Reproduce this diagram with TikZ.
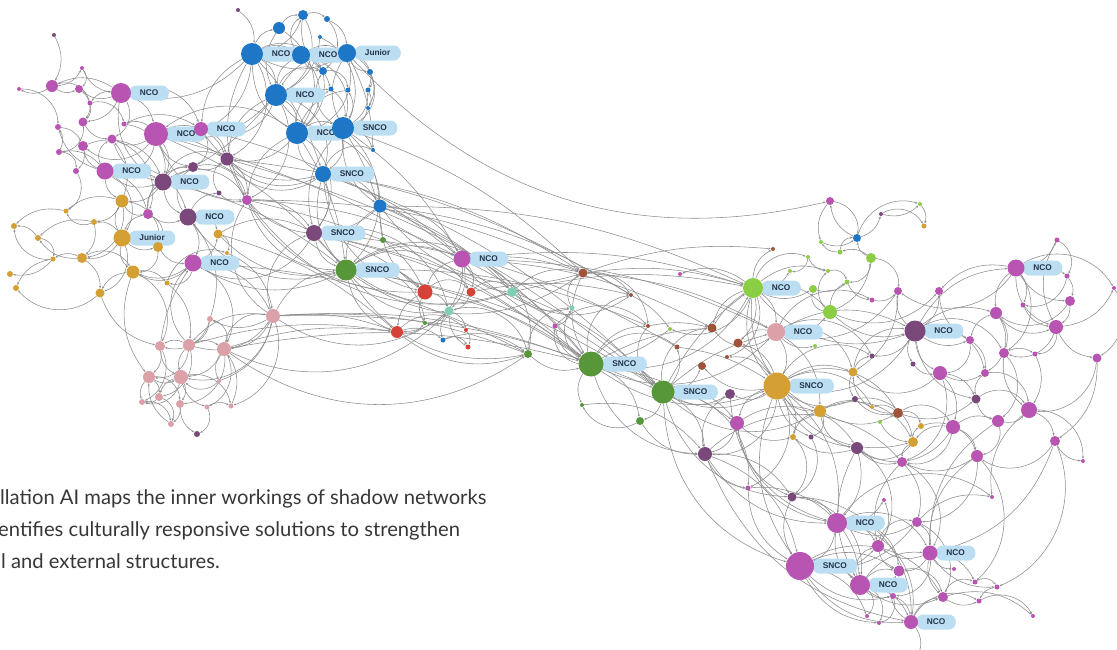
\documentclass[tikz,border=0pt]{standalone}
\usepackage{fontspec}
\setmainfont{Lato}
\newfontfamily\tagfont{Liberation Sans}
\usetikzlibrary{positioning,arrows.meta}
\definecolor{cBlue}{RGB}{30,118,198}
\definecolor{cOrchid}{RGB}{184,84,178}
\definecolor{cPlum}{RGB}{122,72,122}
\definecolor{cGold}{RGB}{212,160,52}
\definecolor{cGreen}{RGB}{88,150,58}
\definecolor{cLime}{RGB}{140,205,70}
\definecolor{cRose}{RGB}{219,160,168}
\definecolor{cRed}{RGB}{214,66,56}
\definecolor{cTeal}{RGB}{128,206,180}
\definecolor{cBrown}{RGB}{160,82,58}
\definecolor{cTag}{RGB}{188,222,242}
\definecolor{cTagText}{RGB}{35,50,72}
\definecolor{cEdge}{RGB}{140,140,140}
\definecolor{cCaption}{RGB}{55,55,55}
\pgfdeclarelayer{edges}
\pgfdeclarelayer{tags}
\pgfsetlayers{edges,tags,main}
\tikzset{
  dot/.style={circle,inner sep=0pt,minimum size=#1pt},
  tag/.style={fill=cTag,rounded corners=7pt,minimum height=15pt,inner xsep=10.5pt,inner ysep=0pt,
    font=\tagfont\bfseries\fontsize{8.3}{8.3}\selectfont,text=cTagText},
  link/.style={draw=cEdge,line width=0.55pt,-{Stealth[length=2.6pt,width=2pt]}},
  caption/.style={anchor=base west,inner sep=0pt,text=cCaption,font=\fontsize{20.2}{24}\selectfont}
}
\begin{document}
\begin{tikzpicture}[x=1pt,y=-1pt]
  \useasboundingbox (0,0) rectangle (1117,649);
  \foreach \n/\x/\y/\d in {b1/252/54/22,b2/301/55/18,b3/347/53/18,b4/276/95/22,b5/297/133/22,b6/343/128/22,
      b7/323/174/16,b8/380/206/13,b9/303/15/10,b10/279/28/12,b11/327/19/6,b12/323/71/8,b13/370/72/6,
      b14/331/89/5,b15/348/90/5,b16/368/90/5,b17/368/108/4,b18/373/150/4,b19/320/37/4,b21/443/340/5,b22/857/238/8}
    \node[dot=\d,fill=cBlue] (\n) at (\x,\y) {};
  \foreach \n/\x/\y/\d in {m1/121/93/20,m2/156/134/24,m3/201/129/14,m4/105/171/17,m5/52/86/12,m6/79/89/8,
      m7/19/89/4,m9/82/68/4,m10/90/103/5,m11/83/122/9,m12/58/127/6,m13/124/124/5,m14/112/139/9,m15/83/146/10,
      m16/59/152/6,m17/76/171/6,m18/148/214/10,m19/247/200/10,m20/193/263/17,m21/462/259/17,m22/555/326/5,
      o1/1016/268/17,o2/830/201/8,o3/1057/240/5,o4/1067/276/5,o5/1070/301/10,o6/1056/327/14,o7/1097/358/9,
      o8/1114/288/4,o9/898/291/8,o10/939/291/8,o11/872/300/5,o12/996/313/12,o13/1023/305/5,o14/970/340/8,
      o15/1004/353/10,o16/1035/354/5,o17/940/373/14,o18/985/373/8,o19/953/427/14,o20/998/421/12,
      o21/1029/410/16,o22/1055/441/10,o23/902/462/10,o24/977/456/12,o25/737/423/14,o26/1083/461/4,
      o27/748/488/5,o28/680/274/4,u1/837/523/20,u2/800/566/28,u3/860/585/20,u4/930/553/15,u5/911/622/14,
      u6/878/546/12,u7/917/522/10,u8/899/571/11,u9/893/596/6,u10/943/597/10,u11/884/500/4,u12/975/582/5,
      u13/997/587/5,u14/979/601/5,u15/1033/616/4,u16/992/497/4,u17/954/569/4,u18/867/616/4,u19/879/623/4}
    \node[dot=\d,fill=cOrchid] (\n) at (\x,\y) {};
  \foreach \n/\x/\y/\d in {p1/163/182/17,p2/188/217/17,p3/193/167/10,p4/227/159/13,p5/219/193/5,p6/314/233/16,
      p7/197/434/6,q1/915/331/21,q2/881/214/4,q3/872/356/5,q4/913/364/5,q5/855/399/6,q6/976/399/9,
      q7/730/394/10,q8/705/454/14,q9/857/448/12,q10/811/437/5,q11/792/497/9,b20/238/10/4,m8/54/35/4}
    \node[dot=\d,fill=cPlum] (\n) at (\x,\y) {};
  \foreach \n/\x/\y/\d in {g1/122/201/13,g3/158/247/10,g2/122/238/17,g4/133/272/13,g5/218/234/9,g6/94/222/6,
      g7/14/226/6,g8/38/238/6,g9/82/258/10,g10/53/259/5,g11/100/293/9,g12/167/283/5,g13/66/211/5,g14/10/274/6,
      g15/16/288/6,g16/227/253/4,a1/777/386/27,a2/820/411/12,a3/853/372/9,a4/924/226/5,a5/872/407/4,
      a6/921/426/6,a7/913/442/10,a8/793/437/6}
    \node[dot=\d,fill=cGold] (\n) at (\x,\y) {};
  \foreach \n/\x/\y/\d in {n1/346/270/21,n2/591/364/25,n3/663/392/23,n4/383/240/6,n5/528/354/8,n6/425/323/4,
      n7/582/405/4,n8/640/421/8}
    \node[dot=\d,fill=cGreen] (\n) at (\x,\y) {};
  \foreach \n/\x/\y/\d in {l1/753/288/20,l2/830/312/14,l3/813/289/8,l4/847/282/5,l5/871/258/10,l6/840/252/5,
      l7/821/242/4,l8/808/257/4,l9/828/271/4,l10/790/271/4,l11/920/204/4,l12/880/422/4,l13/670/329/4,l14/815/346/4}
    \node[dot=\d,fill=cLime] (\n) at (\x,\y) {};
  \foreach \n/\x/\y/\d in {k1/273/316/14,k2/210/319/6,k3/189/345/12,k4/160/346/10,k5/224/349/14,k6/149/377/12,
      k7/181/377/14,k8/159/397/8,k9/142/402/6,k10/180/404/8,k11/207/407/5,k12/231/406/5,k13/171/424/6,
      k14/219/381/4,k15/776/332/18}
    \node[dot=\d,fill=cRose] (\n) at (\x,\y) {};
  \foreach \n/\x/\y/\d in {r1/425/292/15,r2/471/292/9,r3/397/332/12,r4/466/330/4,r5/468/347/5}
    \node[dot=\d,fill=cRed] (\n) at (\x,\y) {};
  \foreach \n/\x/\y/\d in {t1/512/292/10,t2/449/311/9,t3/572/308/5}
    \node[dot=\d,fill=cTeal] (\n) at (\x,\y) {};
  \foreach \n/\x/\y/\d in {w1/583/273/9,w2/631/295/4,w3/648/326/4,w4/677/347/5,w5/712/328/9,w6/738/343/9,
      w7/702/366/8,w8/727/357/4,w9/773/249/4,w10/898/413/10}
    \node[dot=\d,fill=cBrown] (\n) at (\x,\y) {};
  \coordinate (u20) at (918,655);

  \begin{pgfonlayer}{tags}
    \foreach \n/\t in {b1/NCO,b2/NCO,b3/Junior,b4/NCO,b5/NCO,b6/SNCO,b7/SNCO,m1/NCO,m2/NCO,m3/NCO,m4/NCO,
        p1/NCO,p2/NCO,g2/Junior,m20/NCO,p6/SNCO,n1/SNCO,m21/NCO,n2/SNCO,n3/SNCO,l1/NCO,k15/NCO,q1/NCO,
        o1/NCO,a1/SNCO,u1/NCO,u2/SNCO,u3/NCO,u4/NCO,u5/NCO}
      \node[tag,right=-2pt of \n] (\n tag) {\t};
  \end{pgfonlayer}

  \begin{pgfonlayer}{edges}
    \foreach \a/\b in {b1/b4,b1/b2,b2/b3,b4/b5,b5/b6,b6/b7,b1/b10,b10/b9,b9/b11,b11/b3,b12/b5,b13/b16,b16/b17,
        b17/b6,b14/b6,b19/b4,b20/b1,b7/b8,b1/m1,b4/m2,b5/p4,b7/p6,b8/m21,b6/b18,
        m1/m2,m1/m6,m1/m11,m2/m14,m2/p1,m3/p4,m4/m12,m4/m15,m5/m7,m8/m5,m10/m11,m12/m15,m13/m3,m15/m17,
        m18/p1,p1/p3,p2/p5,p4/m19,m19/p6,p2/m20,m20/g4,m20/k1,p1/g1,g2/g1,g2/g9,g1/g6,g6/g9,g9/g8,g10/g14,
        g9/g11,g4/g12,g12/k3,g5/p6,g16/k1,
        k1/k5,k1/k2,k2/k3,k3/k5,k4/k6,k5/k7,k6/k8,k7/k10,k8/k9,k10/k13,k11/k12,k13/k6,k1/n1,
        n1/r1,n1/m21,m21/r2,m21/t2,r1/t2,r2/t2,r3/b21,t2/r4,r4/r5,b21/n5,t1/w1,t3/m22,w1/w2,n2/n3,n2/w3,
        n2/n8,n3/o25,n3/q8,n3/n8,q8/q11,n7/q8,
        l1/k15,l1/l2,l1/w9,l1/w6,l1/l9,k15/a1,k15/q1,k15/a2,a1/a3,a1/q7,a1/a8,a1/w7,a1/u1,a2/a5,l2/l4,
        l5/b22,l6/l7,b22/o2,l11/a4,q1/o9,q1/o12,q1/q3,q1/o1,o1/o4,o1/o13,o5/o6,o7/o22,o12/o15,o15/o16,
        o17/o19,o17/q6,o19/o20,o19/o24,o21/o22,o24/o23,a7/a6,a3/q3,q9/a8,q9/u1,o25/q8,q11/u1,q8/u2,o23/u7,
        o22/u4,o9/a3,o14/o18,o16/o21,o4/o5,
        u1/u2,u1/u6,u2/u3,u2/u8,u2/u18,u3/u8,u3/u5,u4/u6,u4/u8,u4/u12,u5/u10,u5/u20,u7/u16,u10/u15,u3/u4}
      \draw[link] (\a) to[bend left=28] (\b);
    \foreach \a/\b in {b1/b5,b1/b3,b2/b4,b2/b12,b3/b4,b3/b6,b3/b13,b4/b6,b4/b14,b5/b7,b6/b15,b6/b16,b9/b12,
        b10/b4,b15/b5,b1/b9,b6/b8,b1/m19,b4/p4,b5/m19,b6/p6,b7/n1,b8/n1,b8/r1,b1/m3,
        m1/m5,m1/m10,m2/m13,m2/m3,m2/p3,m4/p1,m4/m16,m5/m6,m5/m9,m9/m1,m11/m14,m14/p1,m16/m12,m18/p2,
        m18/m4,p1/p2,p3/p4,p5/m19,m20/g5,m20/n1,p6/n1,m4/g1,m18/g2,g2/g3,g2/g4,g2/g6,g1/g13,g9/g10,g8/g7,
        g10/g15,g4/g11,g11/k4,g3/m20,g1/m14,g13/g7,g6/g8,g4/k6,g5/n1,
        k1/k3,k3/k4,k3/k7,k4/k7,k5/k14,k6/k7,k6/k9,k7/k8,k7/k11,k10/p7,k12/k5,k14/k1,k2/p2,
        n1/r3,n1/t2,m21/r1,m21/t1,r1/r3,r1/n6,r3/n6,t2/b21,t2/r5,n5/n2,r3/n5,t1/t3,m22/n2,w1/n2,n2/n7,
        n2/a1,n3/q7,n3/a1,n3/w4,n3/w7,n8/q8,q8/o27,
        l1/l3,l1/l10,l1/w5,l1/a1,l1/o28,k15/l2,k15/w6,k15/l14,a1/a2,a1/q5,a1/o25,a1/q10,a1/w6,a1/w8,a1/q9,
        a2/w10,a2/a8,l2/q1,l2/l5,l3/l4,l5/l6,l7/b22,b22/q2,l8/l9,q2/l11,o2/l7,q1/o10,q1/o14,q1/q4,q1/o17,
        o1/o3,o1/o5,o1/o12,o1/o10,o6/o7,o6/o8,o12/o14,o15/o21,o17/o18,q6/o20,o19/a7,o20/o21,o22/o26,a7/o23,
        w10/a5,w10/q6,a3/q5,q9/o23,q9/u3,q5/w10,o25/a8,o25/q11,q11/u2,q8/u1,o24/u4,o20/u4,o11/o9,o10/o14,
        o18/q6,o13/o6,o3/o6,o21/u16,l4/o11,q4/o17,l12/a7,
        u1/u3,u1/u7,u1/u11,u2/u6,u2/u9,u2/u19,u2/u5,u3/u9,u3/u10,u4/u7,u4/u10,u4/u17,u4/u13,u5/u9,u6/u8,
        u10/u14,u2/u7,u6/u11,u13/u14,q8/u5,o27/u2,a1/u2,o23/u6}
      \draw[link] (\a) to[bend right=28] (\b);
    \foreach \a/\b in {b1/b12,b1/b14,b2/b5,b2/b6,b3/b5,b3/b16,b4/b7,b4/b12,b5/b14,b5/b8,b6/b12,b9/b4,b10/b5,
        b11/b12,b19/b6,b2/b9,b12/b15,b13/b6,b3/b17,b7/b18,b1/p4,b4/m19,b5/p6,b7/p4,b6/n1,b8/m19,b1/m2,b4/m3,
        m1/m3,m1/m14,m2/m4,m2/p4,m2/m15,m3/p3,m4/m14,m4/p2,m5/m10,m6/m11,m7/m12,m9/m6,m10/m13,m11/m16,m13/p1,
        m14/m18,m15/p1,m16/m17,m17/g13,m18/p3,p1/p4,p1/m19,p2/p3,p2/g5,p3/m19,p5/p4,p6/m20,m20/g12,m20/k5,
        m18/g3,m4/g2,g1/g3,g1/g9,g2/g11,g3/g4,g4/k4,g5/g16,g6/g13,g8/g10,g9/g4,g11/g15,g12/g16,g10/g7,
        k1/k7,k1/k12,k2/k5,k3/k6,k3/k8,k4/k9,k5/k10,k5/k11,k6/k10,k7/k9,k7/k12,k8/k13,k9/k13,k11/p7,k14/k7,
        k2/k4,k1/m19,k1/p6,k3/m20,k5/k1,
        n1/r2,n1/t1,n1/n6,p6/t2,m21/n5,m21/r3,r1/r2,r2/t1,t2/n6,r3/r4,b21/r5,t2/n5,n5/t3,t3/w1,m22/w3,w1/w3,
        n2/w2,n2/w4,n2/m22,n3/w3,n3/w5,n8/n7,n3/o27,n2/t3,
        l1/l8,l1/l13,l1/w8,k15/w5,k15/a3,k15/o11,k15/q3,a1/q3,a1/a5,a1/w10,a1/q8,a1/o27,a2/q10,a2/a7,a3/q1,
        l2/l3,l2/l9,l5/l4,l5/o9,l6/b22,l8/l10,l9/l4,b22/l11,q2/a4,o2/b22,q1/o15,q1/o18,o1/o8,o1/o9,
        o1/o15,o5/o12,o6/o16,o6/o15,o7/o21,o12/o18,o14/o17,o15/o20,o17/a3,o17/o23,o18/o21,o19/o23,o19/q9,
        o20/o24,o21/o26,o22/o24,o24/u7,a7/q9,w10/o19,w10/a6,q6/o21,q9/u6,q10/q11,o25/q9,q8/o23,q11/u3,
        o23/u4,o24/u12,o22/u13,o8/o7,o4/o13,o3/o4,q5/a7,a6/o24,a8/q11,w10/a3,
        u1/u4,u1/u8,u1/u5,u2/u10,u3/u6,u3/u18,u3/u19,u4/u9,u5/u8,u5/u14,u6/u7,u7/u10,u8/u10,u9/u19,u12/u13,
        u14/u15,u1/u16,u10/u12,q11/u5,o27/u3}
      \draw[link] (\a) to[bend left=45] (\b);
    \foreach \a/\b in {n1/n2,p6/n2,m19/n2,p4/w2,b8/w2,b6/m21,b7/w1,m3/m21,n1/n3,p6/n3,k1/n2,k1/n5,b8/l1,
        m21/k15,w1/l1,w1/w9,m21/w1,b8/t1,p6/r1,k1/r3,k5/r3,k4/m20,m2/n1,m19/m21,b5/n1,b4/p1,b1/b7,b3/b18,
        n2/o25,m21/n2,b7/m21,m2/p4,n2/w5,n3/l1,n3/k15,w3/w5,w4/a1,w5/l1,w6/a1,w2/l13,l13/n2,b6/n4,n4/r1,
        m2/n2,p4/n3,m19/w1,p1/n1,k1/n3,k5/n2,k3/r3,g5/r3,b8/n2,b7/n3,b6/w1,m21/l1,w1/k15,n1/w3,m20/n5,
        p6/w4,r1/n2,t1/n3,t1/l1,r2/w2,m21/w5}
      \draw[link] (\a) to[bend left=12] (\b);
    \foreach \a/\b in {n1/n5,p6/t1,b8/w1,m19/n1,p4/b7,m3/b7,n2/l1,t1/w2,k1/t2,k5/n5,n3/q11,n2/q8,q7/q8,
        l1/q1,k15/o9,a1/q1,l2/o10,q1/q6,o12/o6,o1/o6,a1/a7,a2/q9,n3/u2,o25/u1,m1/p1,m2/m19,b5/m2,g1/m18,
        p2/n1,k3/k1,g4/m20,m19/t1,p4/r1,n1/w1,k5/t2,b7/r1,n2/k15,n3/a2,q7/u1,l1/a2}
      \draw[link] (\a) to[bend right=35] (\b);
    \draw[link] (b3) to[bend right=30] (o2);
  \end{pgfonlayer}

  \node[caption] (cap1) at (0,504) {llation AI maps the inner workings of shadow networks};
  \node[caption] (cap2) at (-2,536) {entifies culturally responsive solutions to strengthen};
  \node[caption] (cap3) at (1,568) {l and external structures.};
\end{tikzpicture}
\end{document}
